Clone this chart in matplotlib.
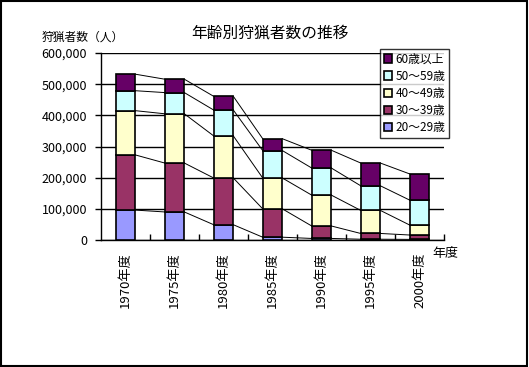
import numpy as np
import matplotlib.pyplot as plt
from matplotlib.patches import Rectangle
from matplotlib.ticker import FuncFormatter

plt.rcParams['font.family'] = ['Noto Sans CJK JP', 'DejaVu Sans']

years = ['1970年度', '1975年度', '1980年度', '1985年度', '1990年度', '1995年度', '2000年度']
age_20_29 = [96000, 90000, 49000, 9000, 5000, 2500, 2000]
age_30_39 = [177000, 157000, 150000, 91000, 40000, 18500, 14000]
age_40_49 = [142000, 158000, 135000, 99000, 99000, 74000, 32000]
age_50_59 = [64000, 68000, 83000, 88000, 87000, 79000, 80000]
age_60_up = [53000, 43000, 44000, 38000, 57000, 73000, 84000]

series = [
    ('20～29歳', age_20_29, '#9999FF'),
    ('30～39歳', age_30_39, '#993366'),
    ('40～49歳', age_40_49, '#FFFFCC'),
    ('50～59歳', age_50_59, '#CCFFFF'),
    ('60歳以上', age_60_up, '#660066'),
]

fig = plt.figure(figsize=(5.29, 3.67), dpi=100)
ax = fig.add_axes([101 / 529, 1 - 240 / 367, 343 / 529, 187 / 367])

x = np.arange(len(years))
w = 0.4
bottom = np.zeros(len(years))
handles = []
for name, vals, col in series:
    vals = np.array(vals, dtype=float)
    b = ax.bar(x, vals, w, bottom=bottom, color=col, edgecolor='black',
               linewidth=1.2, label=name, zorder=3)
    handles.append(b)
    top = bottom + vals
    # series lines between bars
    for j in range(len(years) - 1):
        ax.plot([x[j] + w / 2, x[j + 1] - w / 2], [top[j], top[j + 1]],
                color='black', linewidth=0.7, zorder=2)
    bottom = top

ax.set_xlim(-0.5, len(years) - 0.5)
ax.set_ylim(0, 600000)
ax.set_yticks(np.arange(0, 600001, 100000))
ax.yaxis.set_major_formatter(FuncFormatter(lambda v, p: f'{int(v):,}'))
ax.yaxis.grid(True, color='black', linewidth=1.0, zorder=0)
ax.set_axisbelow(True)
for s in ['top', 'right']:
    ax.spines[s].set_visible(False)
ax.spines['left'].set_linewidth(1.0)
ax.spines['bottom'].set_linewidth(1.0)
ax.tick_params(axis='y', direction='out', length=4, width=1, labelsize=9, pad=6)

ax.set_xticks(x)
ax.set_xticklabels(years, rotation=90, fontsize=9.5)
ax.tick_params(axis='x', length=0, pad=9)
ax.set_xticks(np.arange(0.5, len(years) - 0.4, 1.0), minor=True)
ax.tick_params(axis='x', which='minor', direction='in', length=4, width=1)

fig.text(270 / 529, 1 - 33 / 367, '年齢別狩猟者数の推移', ha='center', va='center', fontsize=11.3)
fig.text(42 / 529, 1 - 37 / 367, '狩猟者数（人）', ha='left', va='center', fontsize=8.5)
fig.text(432 / 529, 1 - 253 / 367, '年度', ha='left', va='center', fontsize=9.4)

leg = ax.legend(handles[::-1], [s[0] for s in series][::-1],
                loc='upper left', bbox_to_anchor=(380 / 529, 1 - 49 / 367),
                bbox_transform=fig.transFigure, fontsize=8.5, frameon=True,
                fancybox=False, edgecolor='black', handlelength=0.7,
                handleheight=0.7, handletextpad=0.3, borderpad=0.3,
                labelspacing=0.35, borderaxespad=0)
leg.get_frame().set_linewidth(1.0)

fig.add_artist(Rectangle((0.002, 0.003), 0.994, 0.994, transform=fig.transFigure,
                         fill=False, edgecolor='black', linewidth=1.5))

fig.savefig('out.png', dpi=100)
